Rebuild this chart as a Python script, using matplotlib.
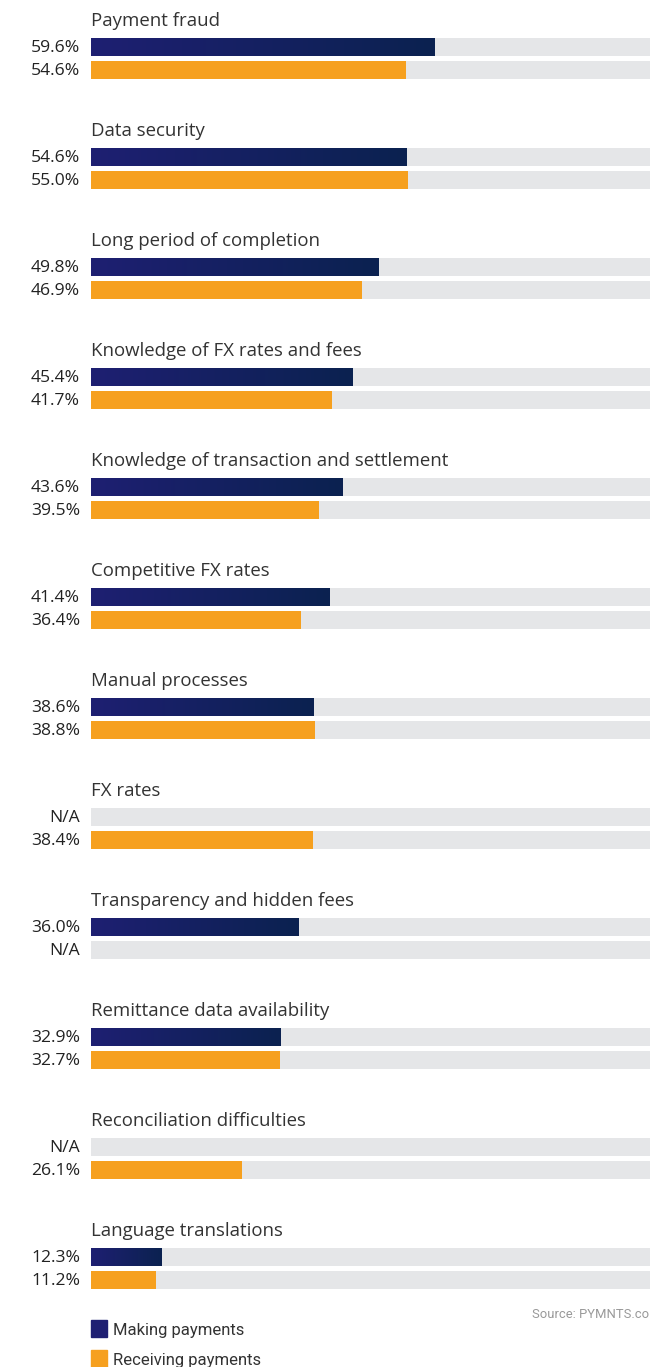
import matplotlib.pyplot as plt
import matplotlib.transforms as mtransforms
from matplotlib.colors import LinearSegmentedColormap
import numpy as np

categories = ['Payment fraud', 'Data security', 'Long period of completion',
              'Knowledge of FX rates and fees', 'Knowledge of transaction and settlement',
              'Competitive FX rates', 'Manual processes', 'FX rates',
              'Transparency and hidden fees', 'Remittance data availability',
              'Reconciliation difficulties', 'Language translations']
making = [59.6, 54.6, 49.8, 45.4, 43.6, 41.4, 38.6, None, 36.0, 32.9, None, 12.3]
receiving = [54.6, 55.0, 46.9, 41.7, 39.5, 36.4, 38.8, 38.4, None, 32.7, 26.1, 11.2]

W, H = 650, 1367
fig = plt.figure(figsize=(W / 100, H / 100), dpi=100)
x0 = 91
px_per_pct = 5.77
ax = fig.add_axes([x0 / W, 0, 1 - x0 / W, 1])
ax.set_axis_off()

navy_cmap = LinearSegmentedColormap.from_list('navy', ['#1e1f72', '#0b2250'])
orange = '#f6a01f'
gray = '#e5e6e8'
grad = np.linspace(0, 1, 256).reshape(1, -1)

label_tr = mtransforms.blended_transform_factory(fig.transFigure, ax.transData)
bh = 18
for i, cat in enumerate(categories):
    top = 20 + 110 * i
    ax.text(0, top + 1, cat, fontsize=13.4, color='#333333', va='center', ha='left',
            family='Open Sans')
    for j, (vals, yoff) in enumerate([(making, 27), (receiving, 50)]):
        yc = top + yoff
        ax.barh(yc, 100, height=bh, color=gray, left=0)
        v = vals[i]
        if v is not None:
            if j == 0:
                ax.imshow(grad, extent=[0, v, yc + bh / 2, yc - bh / 2], cmap=navy_cmap,
                          aspect='auto', zorder=3)
            else:
                ax.barh(yc, v, height=bh, color=orange, zorder=3)
            txt = f'{v:.1f}%'
        else:
            txt = 'N/A'
        ax.text(80 / W, yc + 1, txt, transform=label_tr, fontsize=12.6, color='#222222',
                ha='right', va='center', family='Open Sans')

ax.set_xlim(0, (W - x0) / px_per_pct)
ax.set_ylim(H, 0)

# source and legend
fig.text(532 / W, 1 - 1314 / H, 'Source: PYMNTS.com', fontsize=9.4, color='#999999',
         ha='left', va='center', family='Roboto')
for k, (lab, col) in enumerate([('Making payments', '#1e1f72'), ('Receiving payments', orange)]):
    yc = 1329 + 30 * k
    fig.patches.append(plt.Rectangle((91 / W, 1 - (yc + 8) / H), 16 / W, 17 / H,
                                     transform=fig.transFigure, color=col))
    fig.text(113 / W, 1 - (yc + 2) / H, lab, fontsize=12, color='#333333',
             ha='left', va='center', family='Roboto')

fig.savefig('out.png', dpi=100)
